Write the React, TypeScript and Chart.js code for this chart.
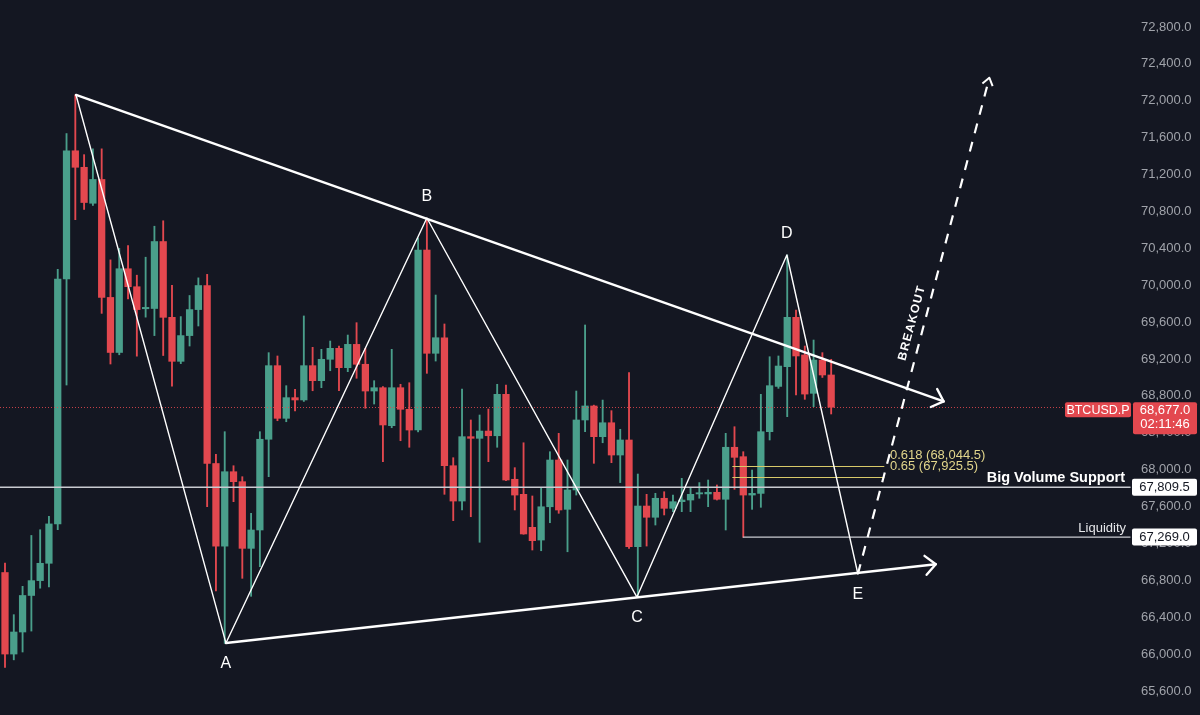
import { useEffect, useRef } from 'react';
import { Chart, registerables } from 'chart.js';

Chart.register(...registerables);

// ---- Candle data (index 0..94) ----
const opens = [
  66885, 66001, 66240, 66636, 66797, 66985, 67412, 70068, 71458, 71279,
  70889, 71147, 69868, 69271, 70179, 69984, 69745, 69748, 70474, 69652,
  69175, 69454, 69736, 69997, 68067, 67171, 67978, 67870, 67147, 67346,
  68330, 69128, 68557, 68781, 68756, 69128, 68965, 69197, 69316, 69106,
  69359, 69143, 68853, 68889, 68477, 68889, 68655, 68430, 70382, 69262,
  69431, 68043, 67660, 68358, 68340, 68419, 68368, 68817, 67896, 67733,
  67375, 67237, 67598, 68105, 67570, 67780, 68539, 68691, 68358, 68509,
  68159, 68322, 67165, 67606, 67484, 67690, 67581, 67653, 67671, 67737,
  67737, 67755, 67679, 68243, 68141, 67725, 67743, 68412, 68903, 69117,
  69652, 69244, 68828, 69189, 69027,
];
const highs = [
  66988, 66428, 66735, 67287, 67349, 67494, 70172, 71645, 72063, 71416,
  71479, 71479, 70275, 70400, 70429, 70109, 70304, 70640, 70699, 69998,
  69660, 69889, 70080, 70118, 68167, 68412, 68043, 67924, 67527, 68412,
  69269, 69233, 68911, 68872, 69667, 69327, 69305, 69395, 69341, 69460,
  69594, 69316, 68965, 68900, 69305, 68926, 68943, 70512, 70726, 69894,
  69580, 68130, 68875, 68539, 68593, 68658, 68926, 68918, 68022, 68292,
  67715, 67798, 68195, 68394, 68105, 68853, 69569, 68700, 68755, 68640,
  68438, 69052, 67953, 67733, 67744, 67761, 67725, 67906, 67809, 67860,
  67888, 67834, 68394, 68466, 68195, 67996, 68817, 69225, 69233, 70328,
  69732, 69341, 69406, 69269, 69197,
];
const lows = [
  65855, 65938, 66023, 66250, 66715, 66728, 67349, 68918, 70711, 70822,
  70865, 69695, 69146, 69246, 69852, 69231, 69654, 69454, 69238, 68905,
  69150, 69341, 69558, 67599, 66686, 66117, 67653, 66822, 66627, 66948,
  67924, 68531, 68520, 68636, 68740, 68856, 68889, 69073, 68856, 69063,
  68991, 68666, 68712, 68087, 68455, 68314, 68243, 68410, 69045, 69178,
  67733, 67447, 67563, 67490, 67213, 68087, 68243, 67880, 67563, 67300,
  67129, 67121, 67425, 67527, 67110, 67725, 68412, 68069, 68292, 68076,
  67860, 67147, 66623, 67172, 67400, 67509, 67545, 67545, 67545, 67690,
  67599, 67671, 67346, 67787, 67267, 67570, 67592, 68322, 68882, 68575,
  68810, 68763, 68683, 69000, 68604,
];
const closes = [
  66001, 66240, 66636, 66797, 66985, 67412, 70068, 71458, 71279, 70897,
  71147, 69868, 69271, 70179, 69984, 69736, 69760, 70474, 69652, 69175,
  69454, 69736, 69997, 68067, 67171, 67978, 67870, 67147, 67346, 68330,
  69128, 68557, 68781, 68756, 69128, 68965, 69197, 69316, 69106, 69359,
  69143, 68853, 68889, 68485, 68889, 68655, 68430, 70382, 69262, 69431,
  68043, 67660, 68358, 68340, 68419, 68368, 68817, 67888, 67725, 67303,
  67230, 67598, 68105, 67563, 67780, 68539, 68691, 68358, 68509, 68159,
  68322, 67165, 67606, 67484, 67690, 67581, 67653, 67671, 67733, 67750,
  67755, 67679, 68243, 68134, 67725, 67743, 68412, 68911, 69124, 69652,
  69233, 68820, 69189, 69027, 68677,
];

const yTicks = [
  65600, 66000, 66400, 66800, 67200, 67600, 68000, 68400, 68800, 69200,
  69600, 70000, 70400, 70800, 71200, 71600, 72000, 72400, 72800,
];

// ---- Pattern annotation data (bar index, price) ----
const pivotNames = ['', 'A', 'B', 'C', 'D', 'E'];
const pivotIdx = [8.08, 25.14, 48.0, 71.9, 88.96, 97.04];
const pivotPrice = [72063, 66120, 70729, 66619, 70328, 66869];
const pivotLabelSide = [0, 1, -1, 1, -1, 1]; // 1 below, -1 above

const upperTrendIdx = [8.08, 106.8];
const upperTrendPrice = [72063, 68740];
const lowerTrendIdx = [25.14, 105.9];
const lowerTrendPrice = [66120, 66975];

const breakoutIdx = [97.04, 112.0];
const breakoutPrice = [66869, 72250];

const fibLabels = ['0.618 (68,044.5)', '0.65 (67,925.5)'];
const fibPrices = [68044.5, 67925.5];
const fibIdx = [82.8, 100.0];

const supportPrice = 67809.5;
const supportLabel = 'Big Volume Support';
const liquidityPrice = 67269.0;
const liquidityStartIdx = 84;
const liquidityLabel = 'Liquidity';
const lastPrice = 68677.0;
const symbolName = 'BTCUSD.P';
const countdown = '02:11:46';

const X_MIN = -0.569;
const X_MAX = 128.0;

const BG = '#141722';
const UP = '#4a9f8b';
const DOWN = '#e3484f';
const FONT = '"Liberation Sans", Arial, sans-serif';

const fmt = (v: number) =>
  v.toLocaleString('en-US', { minimumFractionDigits: 1, maximumFractionDigits: 1 });

function arrowHead(ctx: CanvasRenderingContext2D, x1: number, y1: number, x2: number, y2: number, len: number, ang: number) {
  const th = Math.atan2(y2 - y1, x2 - x1);
  ctx.beginPath();
  ctx.moveTo(x2 - len * Math.cos(th - ang), y2 - len * Math.sin(th - ang));
  ctx.lineTo(x2, y2);
  ctx.lineTo(x2 - len * Math.cos(th + ang), y2 - len * Math.sin(th + ang));
  ctx.stroke();
}

function roundRect(ctx: CanvasRenderingContext2D, x: number, y: number, w: number, h: number, r: number) {
  ctx.beginPath();
  ctx.moveTo(x + r, y);
  ctx.lineTo(x + w - r, y);
  ctx.quadraticCurveTo(x + w, y, x + w, y + r);
  ctx.lineTo(x + w, y + h - r);
  ctx.quadraticCurveTo(x + w, y + h, x + w - r, y + h);
  ctx.lineTo(x + r, y + h);
  ctx.quadraticCurveTo(x, y + h, x, y + h - r);
  ctx.lineTo(x, y + r);
  ctx.quadraticCurveTo(x, y, x + r, y);
  ctx.closePath();
}

const overlayPlugin = {
  id: 'overlay',
  beforeDraw(chart: any) {
    const ctx = chart.ctx;
    ctx.save();
    ctx.fillStyle = BG;
    ctx.fillRect(0, 0, chart.width, chart.height);
    ctx.restore();
  },
  afterDraw(chart: any) {
    const ctx: CanvasRenderingContext2D = chart.ctx;
    const xs = chart.scales.x;
    const ys = chart.scales.y;
    const ca = chart.chartArea;
    const X = (i: number) => xs.getPixelForValue(i);
    const Y = (p: number) => ys.getPixelForValue(p);
    ctx.save();
    ctx.lineCap = 'round';
    ctx.lineJoin = 'round';

    // current price dotted line
    ctx.save();
    ctx.strokeStyle = DOWN;
    ctx.globalAlpha = 0.85;
    ctx.lineWidth = 1;
    ctx.setLineDash([1, 2]);
    ctx.lineCap = 'butt';
    ctx.beginPath();
    ctx.moveTo(ca.left, Math.round(Y(lastPrice)) + 0.5);
    ctx.lineTo(ca.right - 66, Math.round(Y(lastPrice)) + 0.5);
    ctx.stroke();
    ctx.restore();

    // support line
    ctx.strokeStyle = '#c9cbd1';
    ctx.lineWidth = 1.5;
    ctx.beginPath();
    ctx.moveTo(ca.left, Y(supportPrice));
    ctx.lineTo(ca.right, Y(supportPrice));
    ctx.stroke();

    // liquidity line
    ctx.lineWidth = 1.3;
    ctx.beginPath();
    ctx.moveTo(X(liquidityStartIdx), Y(liquidityPrice));
    ctx.lineTo(ca.right, Y(liquidityPrice));
    ctx.stroke();

    // fib lines
    ctx.strokeStyle = '#d8c96a';
    ctx.lineWidth = 1;
    fibPrices.forEach((p) => {
      ctx.beginPath();
      ctx.moveTo(X(fibIdx[0]), Math.round(Y(p)) + 0.5);
      ctx.lineTo(X(fibIdx[1]), Math.round(Y(p)) + 0.5);
      ctx.stroke();
    });
    ctx.fillStyle = '#e2d68c';
    ctx.font = `13px ${FONT}`;
    ctx.textAlign = 'left';
    ctx.textBaseline = 'middle';
    ctx.fillText(fibLabels[0], X(fibIdx[1]) + 6, Y(fibPrices[0]) - 10);
    ctx.fillText(fibLabels[1], X(fibIdx[1]) + 6, Y(fibPrices[1]) - 10);

    // zigzag
    ctx.strokeStyle = '#ffffff';
    ctx.lineWidth = 1.4;
    ctx.beginPath();
    pivotIdx.forEach((i, k) => {
      if (k === 0) ctx.moveTo(X(i), Y(pivotPrice[k]));
      else ctx.lineTo(X(i), Y(pivotPrice[k]));
    });
    ctx.stroke();

    // triangle lines
    ctx.lineWidth = 2.4;
    const ux1 = X(upperTrendIdx[0]), uy1 = Y(upperTrendPrice[0]);
    const ux2 = X(upperTrendIdx[1]), uy2 = Y(upperTrendPrice[1]);
    ctx.beginPath();
    ctx.moveTo(ux1, uy1);
    ctx.lineTo(ux2, uy2);
    ctx.stroke();
    arrowHead(ctx, ux1, uy1, ux2, uy2, 14, Math.PI / 4.2);
    const lx1 = X(lowerTrendIdx[0]), ly1 = Y(lowerTrendPrice[0]);
    const lx2 = X(lowerTrendIdx[1]), ly2 = Y(lowerTrendPrice[1]);
    ctx.beginPath();
    ctx.moveTo(lx1, ly1);
    ctx.lineTo(lx2, ly2);
    ctx.stroke();
    arrowHead(ctx, lx1, ly1, lx2, ly2, 14, Math.PI / 4.2);

    // breakout dashed arrow
    const bx1 = X(breakoutIdx[0]), by1 = Y(breakoutPrice[0]);
    const bx2 = X(breakoutIdx[1]), by2 = Y(breakoutPrice[1]);
    ctx.save();
    ctx.lineWidth = 2.2;
    ctx.lineCap = 'butt';
    ctx.setLineDash([10, 9]);
    ctx.beginPath();
    ctx.moveTo(bx1, by1);
    ctx.lineTo(bx2, by2);
    ctx.stroke();
    ctx.setLineDash([]);
    ctx.lineWidth = 2;
    arrowHead(ctx, bx1, by1, bx2, by2, 9, Math.PI / 5);
    ctx.restore();

    // BREAKOUT text
    const ang = Math.atan2(by2 - by1, bx2 - bx1);
    const t = 0.5;
    const mx = bx1 + (bx2 - bx1) * t;
    const my = by1 + (by2 - by1) * t;
    ctx.save();
    ctx.translate(mx, my);
    ctx.rotate(ang);
    ctx.fillStyle = '#ffffff';
    ctx.font = `bold 12px ${FONT}`;
    (ctx as any).letterSpacing = '1.2px';
    ctx.textAlign = 'center';
    ctx.textBaseline = 'middle';
    ctx.fillText('BREAKOUT', 0, -12);
    ctx.restore();

    // pivot labels
    ctx.fillStyle = '#ffffff';
    ctx.font = `16px ${FONT}`;
    ctx.textAlign = 'center';
    ctx.textBaseline = 'middle';
    pivotNames.forEach((n, k) => {
      if (!n) return;
      ctx.fillText(n, X(pivotIdx[k]), Y(pivotPrice[k]) + pivotLabelSide[k] * 21);
    });

    // support label
    ctx.fillStyle = '#ffffff';
    ctx.font = `bold 14.5px ${FONT}`;
    ctx.textAlign = 'right';
    ctx.textBaseline = 'alphabetic';
    ctx.fillText(supportLabel, ca.right - 5, Y(supportPrice) - 5);
    ctx.font = `13px ${FONT}`;
    ctx.fillStyle = '#e6e7ea';
    ctx.fillText(liquidityLabel, ca.right - 4, Y(liquidityPrice) - 5);

    // axis boxes
    const boxX = ca.right + 2;
    const boxW = 65;
    ctx.textAlign = 'center';
    ctx.textBaseline = 'middle';
    ctx.font = `13px ${FONT}`;
    [supportPrice, liquidityPrice].forEach((p) => {
      const yy = Y(p);
      ctx.fillStyle = '#ffffff';
      roundRect(ctx, boxX, yy - 8.5, boxW, 17, 2);
      ctx.fill();
      ctx.fillStyle = '#131722';
      ctx.fillText(fmt(p), boxX + boxW / 2, yy + 0.5);
    });

    // last price boxes
    const ly = Y(lastPrice) + 2;
    ctx.fillStyle = DOWN;
    roundRect(ctx, boxX + 1, ly - 7, boxW - 1, 32, 2);
    ctx.fill();
    ctx.fillStyle = '#ffffff';
    ctx.fillText(fmt(lastPrice), boxX + 1 + (boxW - 1) / 2, ly + 1);
    ctx.fillText(countdown, boxX + 1 + (boxW - 1) / 2, ly + 15);
    ctx.fillStyle = DOWN;
    roundRect(ctx, ca.right - 65, ly - 7, 66, 15, 2);
    ctx.fill();
    ctx.fillStyle = '#ffffff';
    ctx.font = `12.5px ${FONT}`;
    ctx.fillText(symbolName, ca.right - 32, ly + 1);

    ctx.restore();
  },
};

export default function App() {
  const canvasRef = useRef<HTMLCanvasElement | null>(null);

  useEffect(() => {
    const canvas = canvasRef.current;
    if (!canvas) return;
    const idx = opens.map((_, i) => i);
    const colors = idx.map((i) => (closes[i] >= opens[i] ? UP : DOWN));
    const chart = new Chart(canvas, {
      type: 'bar',
      data: {
        datasets: [
          {
            label: 'body',
            data: idx.map((i) => ({ x: i, y: [opens[i], closes[i]] })) as any,
            backgroundColor: colors,
            barThickness: 6.6,
            minBarLength: 1,
            grouped: false,
            borderWidth: 0,
          } as any,
          {
            label: 'wick',
            data: idx.map((i) => ({ x: i, y: [lows[i], highs[i]] })) as any,
            backgroundColor: colors,
            barThickness: 1.2,
            grouped: false,
            borderWidth: 0,
          } as any,
        ],
      },
      options: {
        animation: false,
        responsive: true,
        maintainAspectRatio: false,
        layout: { padding: 0 },
        plugins: {
          legend: { display: false },
          tooltip: { enabled: false },
        },
        scales: {
          x: {
            type: 'linear',
            min: X_MIN,
            max: X_MAX,
            display: false,
            offset: false,
          },
          y: {
            type: 'linear',
            position: 'right',
            min: 65340,
            max: 73093,
            grid: { display: false, drawTicks: false },
            border: { display: false },
            ticks: {
              color: '#a0a3aa',
              padding: 11,
              font: { family: FONT, size: 13 },
              callback: (v: any) => fmt(Number(v)),
            },
            afterBuildTicks: (scale: any) => {
              scale.ticks = yTicks.map((v) => ({ value: v }));
            },
            afterFit: (scale: any) => {
              scale.width = 70;
              scale.paddingTop = 0;
              scale.paddingBottom = 0;
            },
          },
        },
      } as any,
      plugins: [overlayPlugin],
    });
    return () => chart.destroy();
  }, []);

  return (
    <div style={{ position: 'fixed', left: 0, top: 0, width: 1200, height: 715, background: BG }}>
      <canvas ref={canvasRef} />
    </div>
  );
}
